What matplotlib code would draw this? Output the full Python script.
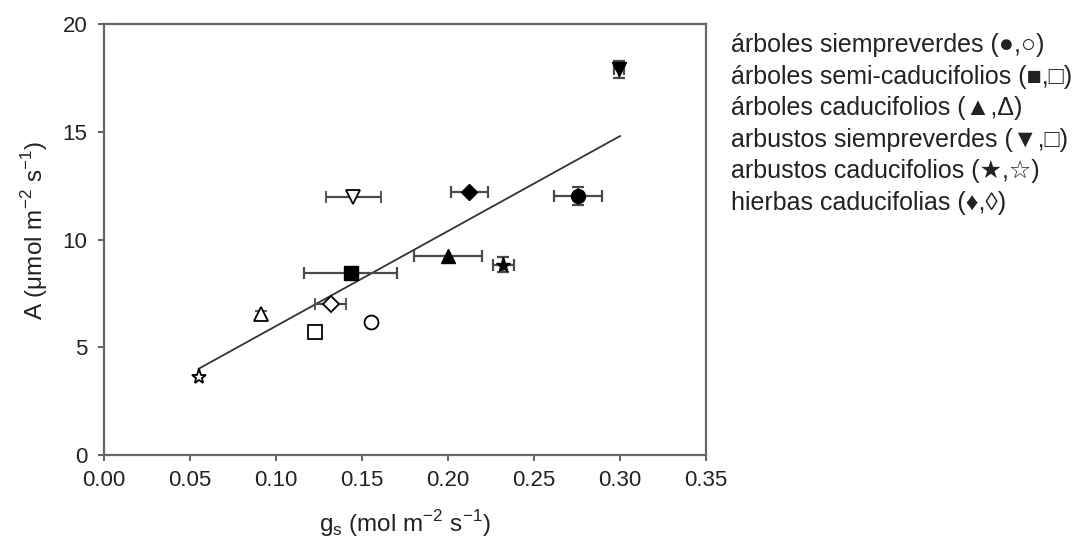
import matplotlib
matplotlib.use("Agg")
import matplotlib.pyplot as plt
import numpy as np

plt.rcParams['font.family'] = ['Liberation Sans', 'DejaVu Sans']

# ---- data ----
groups = ["árboles siempreverdes (●,○)",
          "árboles semi-caducifolios (■,□)",
          "árboles caducifolios (▲,Δ)",
          "arbustos siempreverdes (▼,□)",
          "arbustos caducifolios (★,☆)",
          "hierbas caducifolias (♦,◊)"]
markers = ["o", "s", "^", "v", "*", "D"]

filled_x = [0.2754, 0.1434, 0.2002, 0.2996, 0.2322, 0.2124]
filled_y = [12.02, 8.46, 9.23, 17.9, 8.82, 12.22]
filled_xerr = [0.014, 0.027, 0.0197, 0.003, 0.0062, 0.0108]
filled_yerr = [0.4, 0.0, 0.0, 0.4, 0.35, 0.0]

open_x = [0.155, 0.1229, 0.0913, 0.145, 0.0552, 0.1318]
open_y = [6.16, 5.69, 6.54, 11.96, 3.63, 6.99]
open_xerr = [0.0, 0.0, 0.0, 0.016, 0.0, 0.009]
open_yerr = [0.0, 0.0, 0.15, 0.0, 0.0, 0.0]

fit_intercept = 1.576
fit_slope = 44.08
fit_range = [0.055, 0.30]

xticks = [0.00, 0.05, 0.10, 0.15, 0.20, 0.25, 0.30, 0.35]
yticks = [0, 5, 10, 15, 20]

# ---- figure ----
fig = plt.figure(figsize=(10.88, 5.49), dpi=100)
ax = fig.add_axes([104/1088, 1-455/549, (706-104)/1088, (455-24)/549])

ecol = "#4a4a4a"
fx = np.array(fit_range)
ax.plot(fx, fit_intercept + fit_slope*fx, color="#333333", lw=1.3, zorder=1)

sizes = {"o": 10, "s": 9.5, "^": 10, "v": 10, "*": 11, "D": 8.5}
for i, m in enumerate(markers):
    ax.errorbar(filled_x[i], filled_y[i],
                xerr=filled_xerr[i] if filled_xerr[i] else None,
                yerr=filled_yerr[i] if filled_yerr[i] else None,
                fmt=m, color="black", mfc="black", mec="black",
                ms=sizes[m], ecolor=ecol, elinewidth=1.6, capsize=4,
                capthick=1.6, zorder=3)
    ax.errorbar(open_x[i], open_y[i],
                xerr=open_xerr[i] if open_xerr[i] else None,
                yerr=open_yerr[i] if open_yerr[i] else None,
                fmt=m, color="black", mfc="white", mec="black", mew=1.3,
                ms=sizes[m], ecolor=ecol, elinewidth=1.6, capsize=4,
                capthick=1.6, zorder=3)

ax.set_xlim(0, 0.35)
ax.set_ylim(0, 20)
ax.set_xticks(xticks)
ax.set_xticklabels([f"{t:.2f}" for t in xticks])
ax.set_yticks(yticks)
ax.tick_params(direction="out", length=4, width=1.3, color="#555555",
               labelsize=16, labelcolor="#222222")
ax.tick_params(axis="x", pad=7)
ax.tick_params(axis="y", pad=8)
for s in ax.spines.values():
    s.set_color("#666666")
    s.set_linewidth(1.6)

ax.set_xlabel(r"g$_\mathregular{s}$ (mol m$^\mathregular{-2}$ s$^\mathregular{-1}$)",
              fontsize=17.5, color="#222222", labelpad=12)
ax.set_ylabel(r"A ($\mathregular{\mu}$mol m$^\mathregular{-2}$ s$^\mathregular{-1}$)",
              fontsize=17.5, color="#222222")
ax.yaxis.set_label_coords(-0.09, 0.52)

for i, g in enumerate(groups):
    fig.text(731/1088, 1-(45 + i*31.6)/549, g, fontsize=18, color="#222222",
             va="center", ha="left")

fig.savefig("out.png", dpi=100)
